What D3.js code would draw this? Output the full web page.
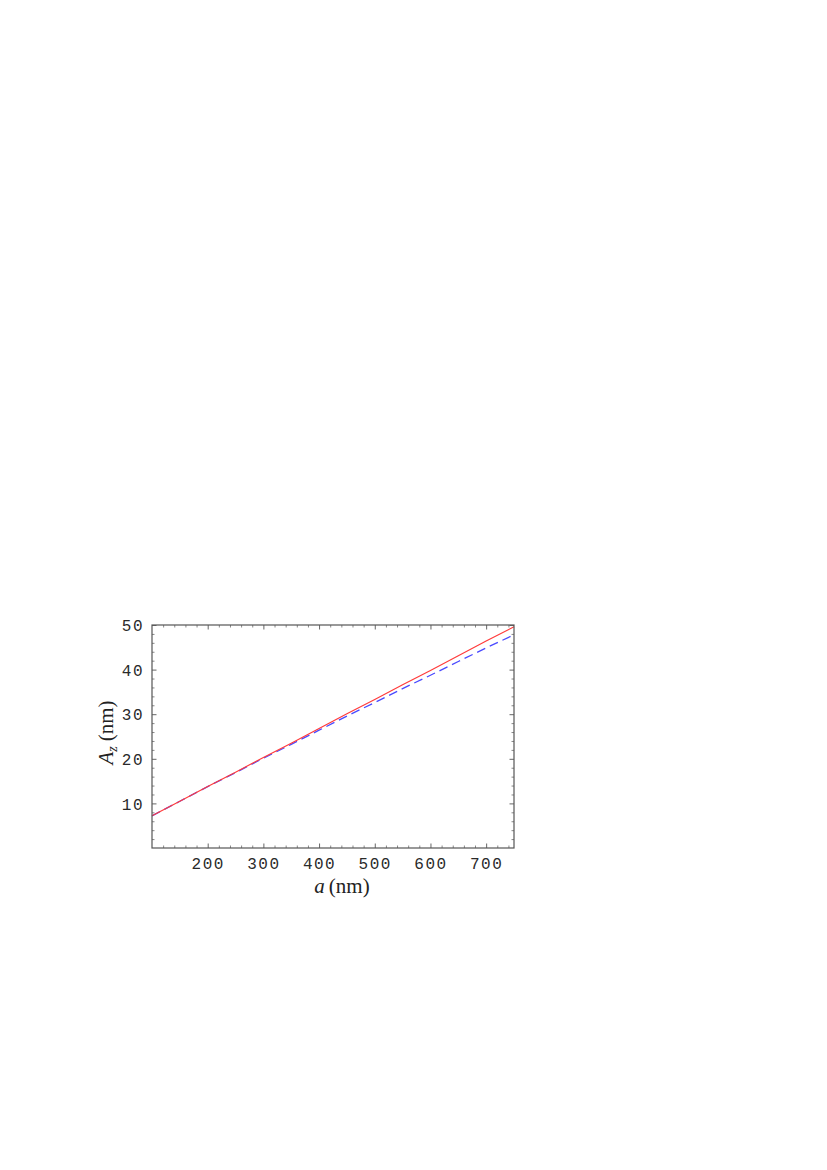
<!DOCTYPE html>
<html>
<head>
<meta charset="utf-8">
<script src="https://cdn.jsdelivr.net/npm/d3@7"></script>
<style>
  body { margin: 0; background: #fff; }
  .tick text { font-family: "Liberation Mono", "DejaVu Sans Mono", monospace; font-size: 16px; letter-spacing: 1.5px; fill: #2a2a2a; }
  .axis-title { font-family: "Liberation Serif", "DejaVu Serif", serif; font-size: 21px; fill: #222; }
</style>
</head>
<body>
<svg id="chart" width="827" height="1170"></svg>
<script>
// chart data
const aValues = [100, 150, 200, 250, 300, 350, 400, 450, 500, 550, 600, 650, 700, 750];
const redSolid = [7.25, 10.5, 13.8, 17.0, 20.3, 23.5, 26.8, 30.1, 33.3, 36.6, 39.8, 43.1, 46.4, 49.6];
const blueDashed = [7.2, 10.49, 13.76, 16.9, 20.13, 23.23, 26.42, 29.58, 32.62, 35.74, 38.73, 41.81, 44.87, 47.8];
const xTicks = [200, 300, 400, 500, 600, 700];
const yTicks = [10, 20, 30, 40, 50];
const xMinor = d3.range(100, 751, 20).filter(v => v % 100 !== 0);
const yMinor = d3.range(0, 51, 2).filter(v => v % 10 !== 0);

const svg = d3.select('#chart');
const margin = { top: 625, left: 152, right: 514, bottom: 848 };

const x = d3.scaleLinear().domain([100, 750]).range([margin.left, margin.right]);
const y = d3.scaleLinear().domain([0, 50]).range([margin.bottom, margin.top]);

const frameColor = '#555';

// minor ticks on all four sides (pointing inward)
const minorAxes = [
    { axis: d3.axisBottom(x).tickValues(xMinor).tickSize(-2.5), t: `translate(0,${margin.bottom})` },
    { axis: d3.axisTop(x).tickValues(xMinor).tickSize(-2.5), t: `translate(0,${margin.top})` },
    { axis: d3.axisLeft(y).tickValues(yMinor).tickSize(-2.5), t: `translate(${margin.left},0)` },
    { axis: d3.axisRight(y).tickValues(yMinor).tickSize(-2.5), t: `translate(${margin.right},0)` }
];
minorAxes.forEach(m => {
    const g = svg.append('g').attr('transform', m.t)
        .call(m.axis.tickFormat(''));
    g.select('.domain').remove();
    g.selectAll('line').attr('stroke', '#888');
});

// major ticks
const xAxis = svg.append('g')
    .attr('transform', `translate(0,${margin.bottom})`)
    .call(d3.axisBottom(x).tickValues(xTicks).tickSize(-4.5).tickPadding(10).tickFormat(d3.format('d')));
xAxis.select('.domain').remove();
xAxis.selectAll('line').attr('stroke', '#666');

const yAxis = svg.append('g')
    .attr('transform', `translate(${margin.left},0)`)
    .call(d3.axisLeft(y).tickValues(yTicks).tickSize(-4.5).tickPadding(8).tickFormat(d3.format('d')));
yAxis.select('.domain').remove();
yAxis.selectAll('line').attr('stroke', '#666');
yAxis.selectAll('text').attr('dy', '0.35em');

const xTop = svg.append('g')
    .attr('transform', `translate(0,${margin.top})`)
    .call(d3.axisTop(x).tickValues(xTicks).tickSize(-4.5).tickFormat(''));
xTop.select('.domain').remove();
xTop.selectAll('line').attr('stroke', '#666');

const yRight = svg.append('g')
    .attr('transform', `translate(${margin.right},0)`)
    .call(d3.axisRight(y).tickValues(yTicks).tickSize(-4.5).tickFormat(''));
yRight.select('.domain').remove();
yRight.selectAll('line').attr('stroke', '#666');

// curves
const line = d3.line().x(d => x(d[0])).y(d => y(d[1]));

svg.append('path')
    .datum(aValues.map((a, i) => [a, blueDashed[i]]))
    .attr('d', line)
    .attr('fill', 'none')
    .attr('stroke', '#4a4aff')
    .attr('stroke-width', 1.3)
    .attr('stroke-dasharray', '9,5');

svg.append('path')
    .datum(aValues.map((a, i) => [a, redSolid[i]]))
    .attr('d', line)
    .attr('fill', 'none')
    .attr('stroke', '#ff3b3b')
    .attr('stroke-width', 1.2);

// frame
svg.append('rect')
    .attr('x', margin.left)
    .attr('y', margin.top)
    .attr('width', margin.right - margin.left)
    .attr('height', margin.bottom - margin.top)
    .attr('fill', 'none')
    .attr('stroke', frameColor)
    .attr('stroke-width', 1.2);

// axis titles
const xTitle = svg.append('text')
    .attr('class', 'axis-title')
    .attr('x', (margin.left + margin.right) / 2 + 9)
    .attr('y', 893)
    .attr('text-anchor', 'middle');
xTitle.append('tspan').attr('font-style', 'italic').text('a');
xTitle.append('tspan').attr('dx', 4).text('(nm)');

const yTitle = svg.append('text')
    .attr('class', 'axis-title')
    .attr('transform', `translate(113,${(margin.top + margin.bottom) / 2 - 4}) rotate(-90)`)
    .attr('text-anchor', 'middle');
yTitle.append('tspan').attr('font-style', 'italic').text('A');
yTitle.append('tspan').attr('font-style', 'italic').attr('font-size', 14).attr('dy', 4).text('z');
yTitle.append('tspan').attr('dx', 5).attr('dy', -4).text('(nm)');
</script>
</body>
</html>
